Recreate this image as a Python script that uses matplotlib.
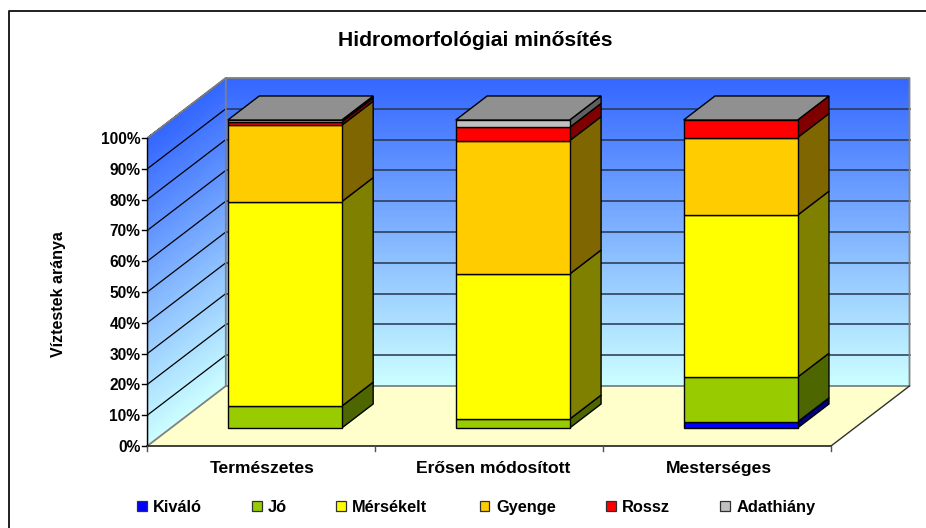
import numpy as np
import matplotlib
matplotlib.use("Agg")
from matplotlib import pyplot as plt
from matplotlib.colors import LinearSegmentedColormap
from matplotlib.patches import Polygon, Rectangle

plt.rcParams['font.family'] = ['Liberation Sans', 'DejaVu Sans']

categories = ["Természetes", "Erősen módosított", "Mesterséges"]
series = ["Kiváló", "Jó", "Mérsékelt", "Gyenge", "Rossz", "Adathiány"]
kivalo = [0, 0, 2.0]
jo = [7.1, 2.9, 14.5]
mersekelt = [66.4, 47.1, 52.6]
gyenge = [24.8, 43.3, 25.2]
rossz = [1.1, 4.3, 5.7]
adathiany = [0.6, 2.4, 0]
values = [kivalo, jo, mersekelt, gyenge, rossz, adathiany]

front_colors = ["#0000FF", "#99CC00", "#FFFF00", "#FFCC00", "#FF0000", "#C0C0C0"]
side_colors = ["#000080", "#4D6600", "#808000", "#806600", "#800000", "#606060"]
top_color = "#909090"

W, H = 926, 528
# front plane of the 3d box in pixels
x0, x1, y0, y100 = 147.3, 831.0, 446.0, 138.0
px_cat = (x1 - x0) / 3
px_pct = (y0 - y100) / 100
# depth of the box in data units
DX = 78.5 / px_cat
DY = 60.0 / px_pct
bar_w = 0.5
d_front, d_back = 0.3, 0.7


def pt(x, v, d=0.0):
    return (x + d * DX, v + d * DY)


fig = plt.figure(figsize=(W / 100, H / 100), dpi=100)
right = x1 + 80
top = y0 - 370
ax = fig.add_axes([x0 / W, 1 - y0 / H, (right - x0) / W, (y0 - top) / H])
ax.set_xlim(0, (right - x0) / px_cat)
ax.set_ylim(0, (y0 - top) / px_pct)
ax.axis("off")

cmap = LinearSegmentedColormap.from_list("wall", ["#CCFFFF", "#3366FF"])
levels = np.linspace(0, 100, 121)
mid = (levels[:-1] + levels[1:]) / 2

# back wall gradient
X, Y = np.meshgrid(np.array([0, 3]) + DX, levels + DY)
ax.pcolormesh(X, Y, mid[:, None], cmap=cmap, vmin=0, vmax=100, shading="flat",
              zorder=1, rasterized=True, antialiased=False)
# side wall gradient
D = np.array([0, 1])
X = np.outer(np.ones_like(levels), D * DX)
Y = levels[:, None] + D * DY
ax.pcolormesh(X, Y, mid[:, None], cmap=cmap, vmin=0, vmax=100, shading="flat",
              zorder=1, rasterized=True, antialiased=False)

# gridlines
for v in range(10, 101, 10):
    if v < 100:
        a, b = pt(3, v, 1), pt(0, v, 1)
        ax.plot([a[0], b[0]], [a[1], b[1]], color="#263550", lw=1.1, zorder=2)
    a, b = pt(0, v, 1), pt(0, v, 0)
    ax.plot([a[0], b[0]], [a[1], b[1]], color="black", lw=0.9, zorder=2)

# floor
ax.add_patch(Polygon([pt(0, 0, 0), pt(3, 0, 0), pt(3, 0, 1), pt(0, 0, 1)],
                     closed=True, fc="#FFFFCC", ec="none", zorder=3))
# wall outlines
wall_edge = "#808080"
outline = [pt(0, 0, 0), pt(0, 100, 0), pt(0, 100, 1), pt(3, 100, 1), pt(3, 0, 1), pt(0, 0, 1)]
ax.plot(*zip(*outline), color=wall_edge, lw=1.3, zorder=3.5)
ax.plot(*zip(pt(0, 100, 1), pt(0, 0, 1), pt(0, 0, 0)), color=wall_edge, lw=1.3, zorder=3.5)
ax.plot(*zip(pt(3, 0, 0), pt(3, 0, 1)), color="#303030", lw=1.0, zorder=3.5)

# axes and ticks
ax.plot(*zip(pt(0, 0), pt(0, 100)), color="black", lw=1.0, zorder=4, clip_on=False)
ax.plot(*zip(pt(0, 0), pt(3, 0)), color="#202020", lw=1.2, zorder=4, clip_on=False)
tick_y = 5 / px_pct
tick_x = 5 / px_cat
for v in range(0, 101, 10):
    ax.plot([-tick_x, 0], [v, v], color="black", lw=1.0, zorder=4, clip_on=False)
    ax.text(-7 / px_cat, v, "%d%%" % v, ha="right", va="center_baseline",
            fontsize=11.2, fontweight="bold", clip_on=False)
for i in range(4):
    ax.plot([i, i], [0, -tick_y], color="#505050", lw=1.0, zorder=4, clip_on=False)

# stacked bars
cat_shift = [0.5, 4, 2]
for i, cat in enumerate(categories):
    left = i + 0.5 - bar_w / 2
    rgt = left + bar_w
    base = 0.0
    for j in range(len(series)):
        h = values[j][i]
        if h <= 0:
            continue
        face = [pt(left, base, d_front), pt(rgt, base, d_front),
                pt(rgt, base + h, d_front), pt(left, base + h, d_front)]
        side = [pt(rgt, base, d_front), pt(rgt, base, d_back),
                pt(rgt, base + h, d_back), pt(rgt, base + h, d_front)]
        ax.add_patch(Polygon(side, closed=True, fc=side_colors[j], ec="black", lw=1.0,
                             joinstyle="miter", zorder=5))
        ax.add_patch(Polygon(face, closed=True, fc=front_colors[j], ec="black", lw=1.0,
                             joinstyle="miter", zorder=6))
        base += h
    lid = [pt(left, base, d_front), pt(rgt, base, d_front),
           pt(rgt, base, d_back), pt(left, base, d_back)]
    ax.add_patch(Polygon(lid, closed=True, fc=top_color, ec="black", lw=1.0,
                         joinstyle="miter", zorder=7))
    ax.text(i + 0.5 + cat_shift[i] / px_cat, -27 / px_pct, cat, ha="center", va="baseline",
            fontsize=12.6, fontweight="bold", clip_on=False)

# title, axis label, legend and border in figure pixels
fig.text(475 / W, 1 - 46 / H, "Hidromorfológiai minősítés", ha="center", va="baseline",
         fontsize=15.2, fontweight="bold")
fig.text(59 / W, 1 - 294 / H, "Víztestek aránya", ha="center", va="center",
         rotation=90, fontsize=11.5, fontweight="bold")

legend_x = [136.5, 251.5, 335.5, 479.5, 605.5, 720.0]
for name, lx, col in zip(series, legend_x, front_colors):
    fig.add_artist(Rectangle((lx / W, 1 - 511 / H), 10 / W, 10 / H, transform=fig.transFigure,
                             fc=col, ec="#303030", lw=0.9))
    fig.text((lx + 16.5) / W, 1 - 512 / H, name, ha="left", va="baseline",
             fontsize=11.8, fontweight="bold")

fig.add_artist(plt.Line2D([9 / W, 9 / W, 1], [0, 1 - 10.5 / H, 1 - 10.5 / H],
                          color="#202020", lw=1.4, transform=fig.transFigure))

fig.savefig("out.png", dpi=100, facecolor="white")
